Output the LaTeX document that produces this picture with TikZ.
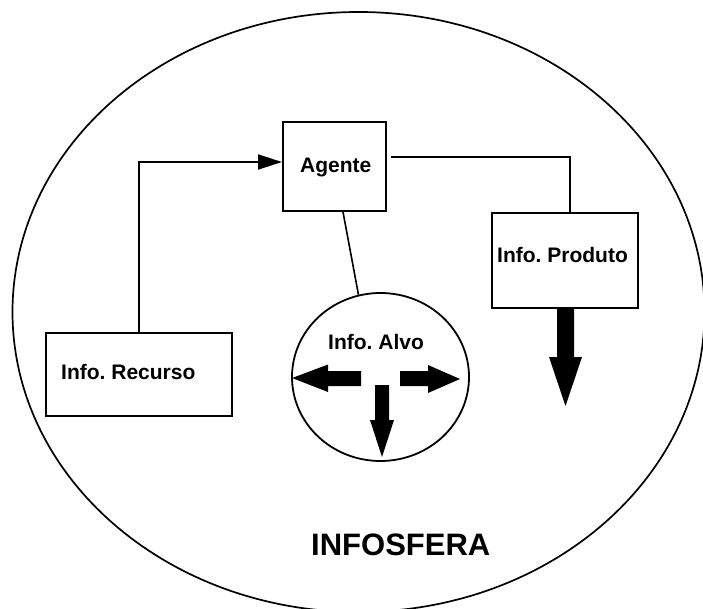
\documentclass[tikz,border=0pt]{standalone}
\usepackage{fontspec}
\setmainfont{Liberation Sans}
\frenchspacing
\usetikzlibrary{shapes.geometric,arrows.meta}
\tikzset{
  boxnode/.style={draw, line width=2pt, rectangle, inner sep=0pt},
  lbl/.style={anchor=base west, inner sep=0pt, font=\fontsize{21}{25}\selectfont\bfseries},
  conn/.style={line width=1.9pt},
  blockarrow/.style={fill=black}
}
\begin{document}
\begin{tikzpicture}[x=1pt,y=-1pt]
\useasboundingbox (0,0) rectangle (703,609);
% outer sphere
\draw[line width=1.7pt] (358.5,312) ellipse [x radius=346, y radius=300];
% boxes
\node[boxnode, minimum width=103pt, minimum height=89pt] (agente) at (334.5,166.5) {};
\node[boxnode, minimum width=186pt, minimum height=83pt] (recurso) at (139,374.5) {};
\node[boxnode, minimum width=146pt, minimum height=95pt] (produto) at (565,260.5) {};
\node[draw, ellipse, line width=1.8pt, minimum width=177pt, minimum height=168pt, inner sep=0pt] (alvo) at (380.5,377) {};
% labels
\node[lbl] (tagente) at (300,173) {Agente};
\node[lbl] (trecurso) at (61,379) {Info. Recurso};
\node[lbl] (tproduto) at (497,262) {Info. Produto};
\node[lbl] (talvo) at (328,349) {Info. Alvo};
\node[anchor=base west, inner sep=0pt, font=\fontsize{31}{37}\selectfont\bfseries] (tinfo) at (311,555) {INFOSFERA};
% connectors
\draw[conn, -{Triangle[length=24pt, width=15pt]}] (recurso.north) |- ([yshift=4.5pt]agente.west);
\draw[conn] ([xshift=4pt, yshift=9.5pt]agente.east) -| ([xshift=5pt]produto.north);
\draw[conn, line width=1.6pt] ([xshift=8.5pt]agente.south) -- (alvo.105);
% block arrows in Info. Alvo
\fill[blockarrow] (361,371) -- (328,371) -- (328,364.5) -- (292,378) -- (328,392) -- (328,386) -- (361,386) -- cycle;
\fill[blockarrow] (400,371) -- (428,371) -- (428,365) -- (460,379) -- (428,393) -- (428,386) -- (400,386) -- cycle;
\fill[blockarrow] (375,385) -- (375,420) -- (370,420) -- (382,457) -- (394,420) -- (389,420) -- (389,385) -- cycle;
% arrow below Info. Produto
\fill[blockarrow] (557,309) -- (557,357) -- (549,357) -- (565.5,406) -- (582,357) -- (574,357) -- (574,309) -- cycle;
\end{tikzpicture}
\end{document}
